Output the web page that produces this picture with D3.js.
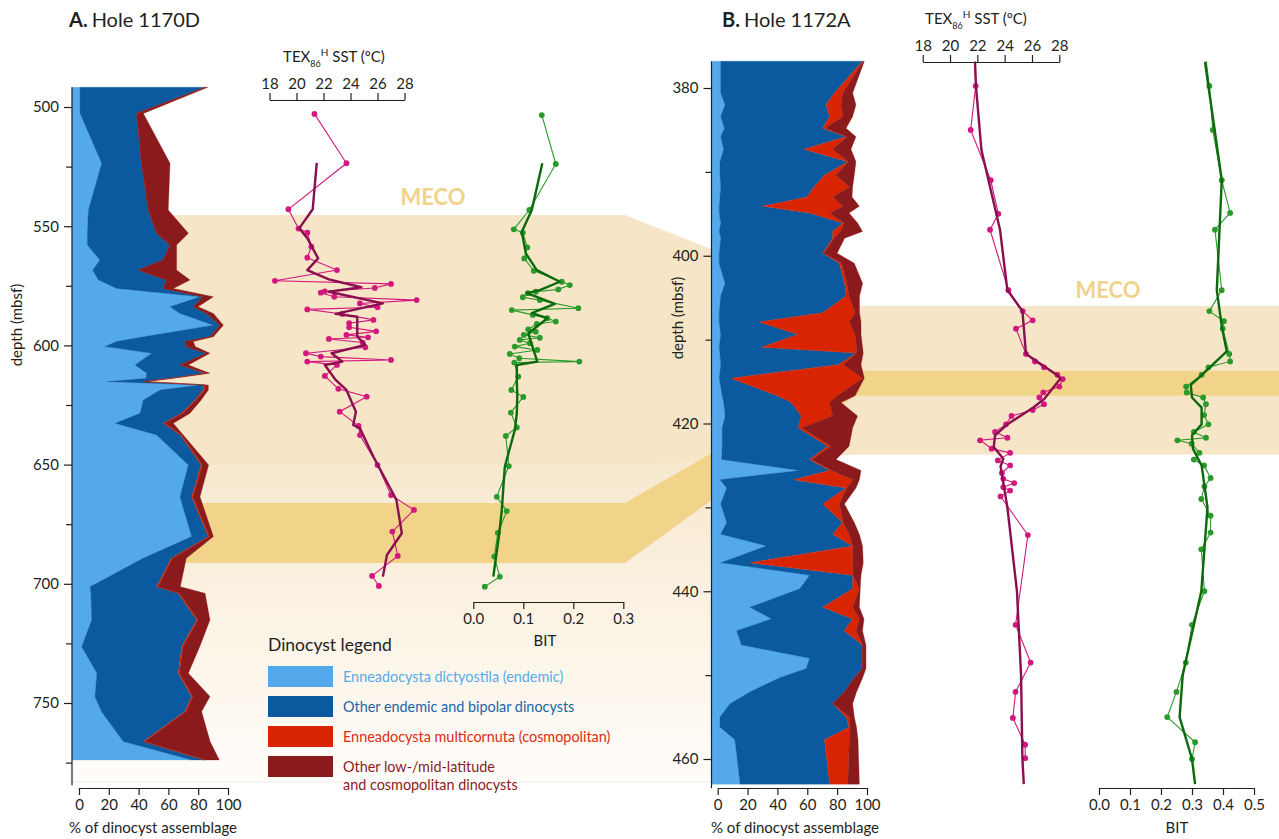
<!DOCTYPE html>
<html><head><meta charset="utf-8">
<script src="https://cdn.jsdelivr.net/npm/d3@7"></script>
<style>
body{margin:0;background:#fff}
svg{display:block;font-family:Lato,"Noto Sans",sans-serif}
</style>
</head><body>
<svg id="chart" width="1279" height="839"></svg>
<script>
// ---------------- Hole 1170D dinocyst assemblage (% of total count) ----------------
const depthA = [491.7,502.7,523.6,543.2,553.0,557.9,564.2,568.4,572.6,576.1,579.6,583.8,586.6,591.5,596.4,598.4,600.5,603.3,608.2,611.7,613.8,615.2,616.6,618.7,622.9,628.5,632.7,637.6,650.2,663.5,680.2,689.3,701.2,704.0,715.2,726.4,737.5,747.3,753.6,766.2,773.9];
const dictyostilaA = [0.7,0.7,15.2,6.3,5.6,5.6,14.0,9.2,13.0,25.3,81.2,61.1,67.8,90.2,43.2,25.0,17.4,48.8,37.6,45.4,45.0,18.6,81.0,54.4,43.2,40.9,24.2,52.1,73.4,67.8,75.6,43.0,7.4,8.0,8.5,1.8,12.0,10.7,15.0,29.7,75.6];
const endemicA = [84.3,38.0,26.8,40.2,46.5,55.5,42.6,30.6,45.8,31.3,2.2,15.6,17.9,4.4,44.8,46.1,54.6,36.9,30.2,39.2,16.0,24.6,3.0,29.0,34.7,28.0,32.4,15.9,8.6,7.8,11.2,19.0,44.7,58.6,70.5,67.1,54.6,64.9,56.1,13.5,8.4];
const multicornutaA = [0,0,0,0,0,0,0,0,0,0,0,0,0,0,0,0,0,0,0,0.8,0.8,0.8,0.8,0.8,0.8,0.8,0.8,0.8,0.8,0.8,0.8,0.8,0.8,0.8,0.8,0.8,0.8,0.8,0.8,0.8,0.8];
const lowLatA = [1.5,4.5,19.1,13.4,21.3,4.4,8.9,25.7,15.7,6.7,6.8,3.2,4.5,2.3,2.2,5.6,6.0,2.2,5.6,2.5,1.2,1.0,2.0,2.6,3.3,4.8,5.9,1.2,4.2,4.8,2.6,9.2,15.1,17.2,8.1,11.3,6.0,11.5,10.4,44.0,9.4];

// ---------------- Hole 1172A dinocyst assemblage ----------------
const depthB = [376.8,380.6,382.0,383.4,384.8,385.8,387.3,388.8,390.4,391.8,393.0,394.1,394.9,396.1,397.1,397.9,399.7,400.9,403.3,404.8,406.8,407.9,409.4,410.9,411.6,413.0,414.6,416.7,417.5,419.1,420.5,422.7,424.3,425.6,426.7,427.7,429.6,431.8,433.2,434.6,436.6,438.1,439.7,441.9,443.3,444.7,446.4,448.0,449.2,450.3,452.0,453.4,455.0,456.2,457.7,463.0];
const dictyostilaB = [2,2,4.9,2,4.5,2,4,1.5,1.5,2,1.5,1,1,2,1,2,1,1,4.9,2,1,1,2,1,1.5,2,1,3,4,5,3,3,2.6,54.9,1.5,6,2,6,2,32.6,2,61.5,54.9,21.5,36,12.6,15.9,61.5,59.3,41.5,21.5,8.2,1.5,1.5,11.5,15];
const endemicB = [95,76.2,67.7,72.9,65.9,84,53.7,85.6,70,62.5,58.5,29,60.5,81.7,76,75,69.4,80.5,80.1,84,69.4,26.8,51.8,28.3,91.1,79,7.9,37,45.3,51,50.8,70.7,58.9,20.1,49.5,80,68.4,77.7,75,57.8,19.5,28.9,35.5,48.9,54.4,72.2,81.1,35.5,37.7,50,63.5,68.8,84.5,86.5,60,60];
const multicornutaB = [0.5,5.5,10,8.8,1.6,0.5,19.3,0.4,7.5,23.7,17,53.7,13.5,0.8,5,1,0.6,1.5,1.5,2,21.6,60.2,38.2,63.7,0.4,3,88.1,40,25.6,21,2.2,2.3,1.5,1,39.4,0.5,11.1,0.3,11,0.1,68.9,0.1,4.5,20,4.5,7.8,0.1,0.1,0.1,0.1,0,0,2.2,0.2,16.7,12.1];
const lowLatB = [0.7,6.7,10,6.7,14,6.1,12.3,5.1,12.5,2.2,13,11.2,13,9.2,15,7,9,8.5,10.6,7,3,8,4,4,4.5,12,1.2,12,7.7,16.7,34.4,12,16.3,20,4.5,6.1,3.4,7.5,6.9,6.5,7.1,5.5,0.6,4.5,3.1,4.4,2.2,2.2,2.2,5.5,8,13.4,3.3,4.8,5.8,7.8];

// ---------------- TEX86H SST (deg C) and BIT index, [depth, value] ----------------
const texA = [[502.9,21.33],[523.6,23.7],[542.9,19.4],[551,20.15],[552.7,20.8],[558.6,21.1],[563.2,20.8],[568.4,23.0],[572.9,18.4],[574.2,27.0],[575.9,25.8],[577.3,22.1],[577.9,21.8],[579.6,22.8],[581,28.9],[582.4,24.7],[584,26.0],[584.9,20.8],[586.8,23.4],[589.3,25.7],[590.7,23.9],[592.4,23.9],[594.1,25.9],[595.6,23.7],[596.6,25.3],[597.3,22.4],[598.8,24.9],[600.8,25.1],[603.3,20.7],[604.7,21.8],[606.1,27.0],[606.8,20.8],[608.2,23.0],[612.8,22.1],[618.2,23.1],[621.5,25.2],[627.8,23.2],[633.8,24.6],[637.6,24.7],[650.2,26.0],[662.8,27.0],[669,28.7],[678.1,27.1],[688.3,27.5],[696.7,25.6],[700.9,26.1]];
const texSmoothA = [[523.4,21.5],[542.9,21.2],[550.9,20.2],[555,20.8],[563.5,21.6],[568.4,20.8],[572.3,22.4],[575.6,24.8],[577.5,22.4],[582.4,26.4],[586.8,22.9],[588,24.5],[596.3,24.5],[599.8,25.1],[603.3,22.6],[606.8,23.4],[608.2,22.1],[614.5,22.9],[618.7,23.7],[627.8,24.4],[633.4,24.2],[634.8,24.7],[646.7,25.7],[664.8,27.4],[678.8,27.8],[687.9,26.7],[697,26.4]];
const bitA = [[503.4,0.137],[523.9,0.165],[543.2,0.112],[551.3,0.081],[552.7,0.099],[558.9,0.108],[563.5,0.102],[568.7,0.121],[573.3,0.177],[574.7,0.193],[576.5,0.170],[577.5,0.125],[578.1,0.109],[579.8,0.099],[581,0.133],[584.4,0.210],[585.2,0.077],[587.2,0.119],[588.6,0.148],[590,0.165],[591,0.127],[593.3,0.110],[594.3,0.125],[595.6,0.101],[596.8,0.133],[597.7,0.093],[599.1,0.113],[600.5,0.083],[601.9,0.128],[603.6,0.073],[605.4,0.092],[606.8,0.212],[607.2,0.082],[613.1,0.090],[618.7,0.076],[621.6,0.100],[628.2,0.075],[634.4,0.087],[638,0.065],[650.6,0.071],[663.5,0.047],[669.5,0.067],[678.6,0.049],[688.6,0.042],[697,0.053],[701.2,0.023]];
const bitSmoothA = [[523.6,0.138],[543.2,0.117],[552.3,0.097],[561.4,0.105],[568.4,0.127],[573.3,0.173],[576.8,0.133],[578.1,0.107],[582.6,0.163],[586.5,0.117],[588.6,0.148],[595,0.110],[606.8,0.128],[608.2,0.087],[614.5,0.087],[620.8,0.088],[628.5,0.087],[635.5,0.083],[650.9,0.063],[669,0.057],[678.8,0.052],[697,0.040]];

const texB = [[375,21.8],[379.76,21.88],[385.0,21.51],[391.0,22.98],[395.0,23.54],[396.9,22.93],[404.1,24.27],[406.6,25.32],[407.7,26.05],[408.7,24.83],[411.7,25.56],[412.6,26.22],[413.3,26.88],[414.2,27.86],[414.7,28.25],[415.6,28.0],[416.3,26.83],[416.9,26.54],[417.7,26.88],[418.4,26.05],[419.1,24.5],[420.1,24.1],[421.0,23.3],[421.7,24.2],[422.0,22.2],[423.0,23.05],[423.5,24.4],[424.4,23.5],[425.0,24.4],[425.9,23.8],[426.6,23.9],[427.1,24.7],[427.6,23.9],[428.0,24.4],[428.7,23.7],[433.3,25.7],[444.0,24.8],[448.5,25.9],[452.0,24.8],[455.1,24.6],[458.3,25.5],[459.9,25.5]];
const texSmoothB = [[376.9,21.83],[379.8,21.9],[387.4,22.3],[396.9,23.66],[404.1,24.2],[406.6,25.3],[408.5,25.4],[411.7,25.56],[414.2,27.8],[414.6,28.1],[417.1,26.88],[418.1,26.1],[420.1,24.2],[421.4,23.3],[422.8,23.2],[424.2,23.9],[425.1,23.7],[430,24.2],[440,24.9],[450,25.2],[460,25.3],[463,25.4]];
const bitB = [[375,0.34],[379.76,0.356],[385.0,0.367],[391.0,0.396],[394.9,0.423],[396.9,0.374],[404.1,0.396],[406.6,0.356],[407.8,0.403],[408.7,0.399],[411.7,0.42],[412.6,0.423],[413.3,0.353],[414.2,0.331],[415.6,0.281],[416.3,0.283],[416.9,0.336],[417.7,0.345],[419,0.339],[420.1,0.353],[421,0.306],[421.7,0.345],[422,0.253],[422.4,0.299],[423.5,0.324],[424.3,0.306],[425,0.339],[426.5,0.36],[427.5,0.34],[429,0.33],[431,0.36],[433,0.36],[435,0.33],[440,0.34],[444,0.30],[448.5,0.28],[452,0.25],[455,0.22],[458,0.31],[460,0.30]];
const bitSmoothB = [[376.9,0.342],[391,0.396],[404.1,0.38],[408.4,0.396],[411.4,0.412],[414.4,0.326],[415.4,0.296],[416.9,0.30],[418.1,0.331],[420.1,0.331],[421.4,0.30],[423,0.303],[425,0.331],[430,0.35],[440,0.33],[450,0.27],[455,0.26],[460,0.30],[463,0.31]];

// ---------------- axis ticks, bands and legend text ----------------
const depthMajorA = [500,550,600,650,700,750];
const depthMinorA = [525,575,625,675,725,775];
const depthMajorB = [380,400,420,440,460];
const depthMinorB = [390,410,430,450];
const pctTicks = [0,20,40,60,80,100];
const texTicks = [18,20,22,24,26,28];
const bitTicksA = [0.0,0.1,0.2,0.3];
const bitTicksB = [0.0,0.1,0.2,0.3,0.4,0.5];
const mecoA = [545.3, 650];      // MECO interval, Hole 1170D (mbsf)
const peakA = [666.1, 691.3];    // MECO peak warming, Hole 1170D
const mecoB = [406.0, 423.7];    // MECO interval, Hole 1172A
const peakB = [413.7, 416.7];    // MECO peak warming, Hole 1172A
const taxa = ["dict","endemic","multi","lowlat"];
const taxonLabels = ["Enneadocysta dictyostila (endemic)","Other endemic and bipolar dinocysts","Enneadocysta multicornuta (cosmopolitan)","Other low-/mid-latitude|and cosmopolitan dinocysts"];

const taxonFill = {dict:"#53a9ec", endemic:"#0b5a9f", multi:"#d82500", lowlat:"#8a1a1c"};
const taxonText = ["#58abe9","#1a64a8","#dd2b12","#8a1c1e"];
const INK = "#231f20";
const TEX_RAW = "#d4177f", TEX_SM = "#8a0f50";
const BIT_RAW = "#2a9a2a", BIT_SM = "#0b6a0b";

const svg = d3.select("#chart");
const defs = svg.append("defs");

// ---------------- scales ----------------
const yA = d3.scaleLinear().domain([500,750]).range([107,703]);
const pctA = d3.scaleLinear().domain([0,100]).range([79,228]);
const texAx = d3.scaleLinear().domain([18,28]).range([269.5,404.5]);
const bitAx = d3.scaleLinear().domain([0,0.3]).range([473.3,623.3]);

const yB = d3.scaleLinear().domain([380,460]).range([88,759]);
const pctB = d3.scaleLinear().domain([0,100]).range([717.7,867]);
const texBx = d3.scaleLinear().domain([18,28]).range([922.7,1059.3]);
const bitBx = d3.scaleLinear().domain([0,0.5]).range([1099,1254]);

const axisLeftA = 72, axisLeftB = 711.5;
const bandEndA = 625, bandStartB = 855;

// ---------------- MECO background bands ----------------
const grad = defs.append("linearGradient").attr("id","fade").attr("x1",0).attr("y1",0).attr("x2",0).attr("y2",1);
grad.append("stop").attr("offset","0%").attr("stop-color","#f7e8cd");
grad.append("stop").attr("offset","100%").attr("stop-color","#fffdfa");

const bg = svg.append("g");
const fadeTop = yA(mecoA[1]) - 12;
bg.append("rect")
  .attr("x",axisLeftA).attr("y",fadeTop)
  .attr("width",axisLeftB - axisLeftA).attr("height",782 - fadeTop)
  .attr("fill","url(#fade)");
bg.append("line").attr("x1",axisLeftA).attr("x2",axisLeftB).attr("y1",782).attr("y2",782)
  .attr("stroke","#ececec").attr("stroke-width",1);

const band = (lo, hi, fill) => {
  const pts = [
    [axisLeftA, yA(lo[0])],[bandEndA, yA(lo[0])],[bandStartB, yB(hi[0])],[1279, yB(hi[0])],
    [1279, yB(hi[1])],[bandStartB, yB(hi[1])],[bandEndA, yA(lo[1])],[axisLeftA, yA(lo[1])]
  ];
  bg.append("path").attr("d", d3.line()(pts) + "Z").attr("fill", fill);
};
band(mecoA, mecoB, "#f6e5c6");
band(peakA, peakB, "#f1d38a");

svg.append("text").attr("x",433).attr("y",205).attr("text-anchor","middle")
  .attr("font-size",22).attr("font-weight",700).attr("fill","#f0d28a").text("MECO");
svg.append("text").attr("x",1108).attr("y",298).attr("text-anchor","middle")
  .attr("font-size",22).attr("font-weight",700).attr("fill","#f0d28a").text("MECO");

// ---------------- stacked dinocyst areas ----------------
function drawAssemblage(depths, cols, y, x, left) {
  const rows = depths.map((d,i) => ({depth:d, dict:cols[0][i], endemic:cols[1][i], multi:cols[2][i], lowlat:cols[3][i]}));
  const stack = d3.stack().keys(taxa)(rows);
  const g = svg.append("g");
  stack.forEach((layer, li) => {
    const area = d3.area()
      .y(d => y(d.data.depth))
      .x0(d => li === 0 ? left : x(d[0]))
      .x1(d => x(d[1]));
    g.append("path").attr("d", area(layer)).attr("fill", taxonFill[layer.key])
      .attr("stroke", taxonFill[layer.key]).attr("stroke-width", 0.3);
  });
}
drawAssemblage(depthA, [dictyostilaA, endemicA, multicornutaA, lowLatA], yA, pctA, axisLeftA);
drawAssemblage(depthB, [dictyostilaB, endemicB, multicornutaB, lowLatB], yB, pctB, axisLeftB);

// ---------------- proxy curves ----------------
defs.append("clipPath").attr("id","clipB").append("rect").attr("x",880).attr("y",61).attr("width",400).attr("height",740);

function drawProxy(raw, smooth, x, y, rawColor, smColor, clip) {
  const g = svg.append("g");
  if (clip) g.attr("clip-path", "url(#" + clip + ")");
  const line = d3.line().x(d => x(d[1])).y(d => y(d[0]));
  g.append("path").attr("d", line(raw)).attr("fill","none").attr("stroke",rawColor).attr("stroke-width",1.1);
  g.selectAll("circle").data(raw).join("circle")
    .attr("cx", d => x(d[1])).attr("cy", d => y(d[0])).attr("r", 2.9).attr("fill", rawColor);
  g.append("path").attr("d", line(smooth)).attr("fill","none").attr("stroke",smColor)
    .attr("stroke-width",2.4).attr("stroke-linejoin","round");
}
drawProxy(texA, texSmoothA, texAx, yA, TEX_RAW, TEX_SM);
drawProxy(bitA, bitSmoothA, bitAx, yA, BIT_RAW, BIT_SM);
drawProxy(texB, texSmoothB, texBx, yB, TEX_RAW, TEX_SM, "clipB");
drawProxy(bitB, bitSmoothB, bitBx, yB, BIT_RAW, BIT_SM, "clipB");

// ---------------- axes ----------------
function styleAxis(g) {
  g.selectAll("path,line").attr("stroke", INK).attr("stroke-width", 1.2);
  g.selectAll("text").attr("fill", INK).attr("font-size", 15).attr("font-family","Lato,'Noto Sans',sans-serif");
}
function depthAxis(y, x0, major, minor, top, bottom) {
  const g = svg.append("g").attr("transform", `translate(${x0},0)`);
  g.call(d3.axisLeft(y).tickValues(major).tickSize(8).tickPadding(5).tickFormat(d3.format("d")));
  g.select(".domain").remove();
  const gm = svg.append("g").attr("transform", `translate(${x0},0)`);
  gm.call(d3.axisLeft(y).tickValues(minor).tickSize(6).tickFormat(""));
  gm.select(".domain").remove();
  g.append("line").attr("x1",0).attr("x2",0).attr("y1",y(top)).attr("y2",y(bottom));
  styleAxis(g); styleAxis(gm);
}
depthAxis(yA, axisLeftA, depthMajorA, depthMinorA, 491.7, 784.5);
depthAxis(yB, axisLeftB, depthMajorB, depthMinorB, 376.8, 463.5);

function hAxis(scale, ticks, yPos, kind, fmt) {
  const ax = kind === "top" ? d3.axisTop(scale) : d3.axisBottom(scale);
  const g = svg.append("g").attr("transform", `translate(0,${yPos})`)
    .call(ax.tickValues(ticks).tickSize(7).tickSizeOuter(0).tickPadding(4).tickFormat(fmt));
  styleAxis(g);
  return g;
}
hAxis(pctA, pctTicks, 788, "bottom", d3.format("d"));
hAxis(pctB, pctTicks, 788, "bottom", d3.format("d"));
hAxis(texAx, texTicks, 100, "top", d3.format("d"));
hAxis(texBx, texTicks, 62, "top", d3.format("d"));
hAxis(bitAx, bitTicksA, 602, "bottom", d3.format(".1f"));
hAxis(bitBx, bitTicksB, 788, "bottom", d3.format(".1f"));

// ---------------- titles and axis labels ----------------
const label = (x, y, txt, opts = {}) => svg.append("text").attr("x", x).attr("y", y)
  .attr("text-anchor", opts.anchor || "middle").attr("font-size", opts.size || 15)
  .attr("fill", opts.fill || INK).attr("transform", opts.rot ? `rotate(-90,${x},${y})` : null).text(txt);

function panelTitle(x, y, letter, name) {
  const t = svg.append("text").attr("x", x).attr("y", y).attr("font-size", 20).attr("fill", INK);
  t.append("tspan").attr("font-weight", 700).text(letter);
  t.append("tspan").attr("dx", 4).text(name);
}
panelTitle(69, 27, "A.", "Hole 1170D");
panelTitle(722, 27, "B.", "Hole 1172A");

function texTitle(cx, y) {
  const t = svg.append("text").attr("x", cx).attr("y", y).attr("text-anchor","middle").attr("font-size", 15).attr("fill", INK);
  t.append("tspan").text("TEX");
  t.append("tspan").attr("font-size", 9).attr("dy", 5).text("86");
  t.append("tspan").attr("font-size", 10).attr("dy", -11).text("H");
  t.append("tspan").attr("dy", 6).text(" SST (ºC)");
}
texTitle(334, 62);
texTitle(976, 24);

label(22, 325, "depth (mbsf)", {rot:true});
label(683, 318, "depth (mbsf)", {rot:true});
label(153, 833, "% of dinocyst assemblage");
label(795, 833, "% of dinocyst assemblage");
label(545, 646, "BIT");
label(1177, 833, "BIT");

// ---------------- legend ----------------
const lg = svg.append("g");
lg.append("text").attr("x", 268).attr("y", 651).attr("font-size", 17.5).attr("fill", INK).text("Dinocyst legend");
taxa.forEach((k, i) => {
  const top = 666 + i * 30;
  lg.append("rect").attr("x", 268).attr("y", top).attr("width", 65).attr("height", 21).attr("fill", taxonFill[k]);
  const t = lg.append("text").attr("x", 343).attr("y", top + 16).attr("font-size", 14.4).attr("fill", taxonText[i]);
  taxonLabels[i].split("|").forEach((s, j) => t.append("tspan").attr("x", 343).attr("dy", j ? 18 : 0).text(s));
});
</script>
</body></html>
